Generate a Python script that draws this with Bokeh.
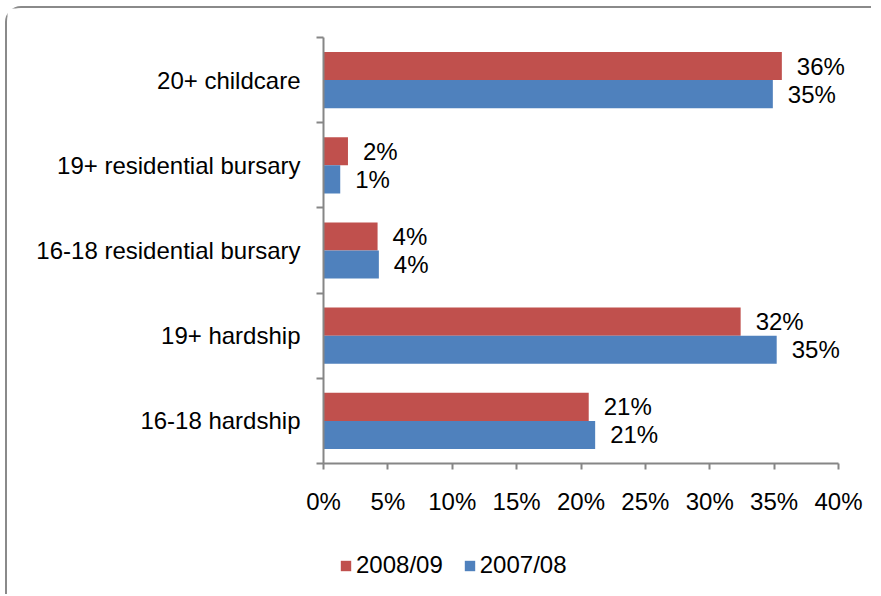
from bokeh.plotting import figure
from bokeh.models import FixedTicker, Legend, LegendItem, ColumnDataSource
from bokeh.core.properties import value
from bokeh.embed import file_html
from bokeh.resources import INLINE

# ---- data (bottom to top) ----
categories = ["16-18 hardship", "19+ hardship", "16-18 residential bursary",
              "19+ residential bursary", "20+ childcare"]
series_names = ["2008/09", "2007/08"]
values_2008_09 = [20.6, 32.4, 4.2, 1.9, 35.6]
values_2007_08 = [21.1, 35.2, 4.3, 1.3, 34.9]
x_ticks = [0, 5, 10, 15, 20, 25, 30, 35, 40]
x_tick_labels = ["0%", "5%", "10%", "15%", "20%", "25%", "30%", "35%", "40%"]
colors = ["#C0504D", "#4F81BD"]

FONT = "Liberation Sans"
FS = "24px"
GREY = "#868686"

# ---- geometry (pixels) ----
W, H = 866, 588
LEFT, TOP = 316, 29          # position of the (0%, top) corner of the plot area
PX_PER_PCT = 515 / 40
BAND_PX = 85.2
n = len(categories)
x_min = -LEFT / PX_PER_PCT
x_max = (W - LEFT) / PX_PER_PCT
y_max = n + TOP / BAND_PX
y_min = n - (H - TOP) / BAND_PX

p = figure(width=W, height=H, x_range=(x_min, x_max), y_range=(y_min, y_max),
           output_backend="svg", toolbar_location=None,
           min_border_left=0, min_border_right=0, min_border_top=0, min_border_bottom=0)
p.outline_line_color = None
p.xgrid.visible = False
p.ygrid.visible = False
p.styles = {"margin-left": "5px", "margin-top": "6px",
            "border-left": "2px solid #8a8a8a", "border-top": "2px solid #8a8a8a",
            "border-top-left-radius": "16px"}

centers = [i + 0.5 for i in range(n)]
off = 0.165
bh = 0.33

renderers = []
for vals, col, sgn in [(values_2008_09, colors[0], 1), (values_2007_08, colors[1], -1)]:
    ys = [c + sgn * off for c in centers]
    src = ColumnDataSource(dict(y=ys, right=vals, lab=[f"{round(v)}%" for v in vals]))
    r = p.hbar(y="y", left=0, right="right", height=bh, source=src,
               fill_color=col, line_color=None)
    renderers.append(r)
    p.text(x="right", y="y", text="lab", source=src, x_offset=15,
           text_align="left", text_baseline="middle", text_color="black",
           text_font=value(FONT), text_font_size=FS)

# x axis (drawn at y = 0)
xa = p.xaxis[0]
xa.fixed_location = 0
xa.ticker = FixedTicker(ticks=x_ticks)
xa.bounds = (0, 40)
xa.major_label_overrides = {t: l for t, l in zip(x_ticks, x_tick_labels)}
xa.axis_line_color = GREY
xa.axis_line_width = 2
xa.major_tick_line_color = GREY
xa.major_tick_line_width = 2
xa.major_tick_out = 6
xa.major_tick_in = 0
xa.minor_tick_line_color = None
xa.major_label_text_font = FONT
xa.major_label_text_font_size = FS
xa.major_label_text_color = "black"
xa.major_label_standoff = 18

# y axis (drawn at x = 0)
ya = p.yaxis[0]
ya.fixed_location = 0
ya.ticker = FixedTicker(ticks=centers, minor_ticks=list(range(n + 1)))
ya.bounds = (0, n)
ya.major_label_overrides = {c: name for c, name in zip(centers, categories)}
ya.axis_line_color = GREY
ya.axis_line_width = 2
ya.major_tick_line_color = None
ya.major_tick_out = 0
ya.major_tick_in = 0
ya.minor_tick_line_color = GREY
ya.minor_tick_line_width = 2
ya.minor_tick_out = 7
ya.minor_tick_in = 0
ya.major_label_text_font = FONT
ya.major_label_text_font_size = FS
ya.major_label_text_color = "black"
ya.major_label_standoff = 16

legend = Legend(items=[LegendItem(label=series_names[0], renderers=[renderers[0]]),
                       LegendItem(label=series_names[1], renderers=[renderers[1]])],
                location=(LEFT + 16, 17), orientation="horizontal",
                border_line_color=None, background_fill_alpha=0,
                padding=0, margin=0, spacing=20, label_standoff=4,
                glyph_width=13, glyph_height=13,
                label_text_font=FONT, label_text_font_size=FS, label_text_color="black")
p.add_layout(legend)

open("out.html", "w").write(file_html(p, INLINE))
